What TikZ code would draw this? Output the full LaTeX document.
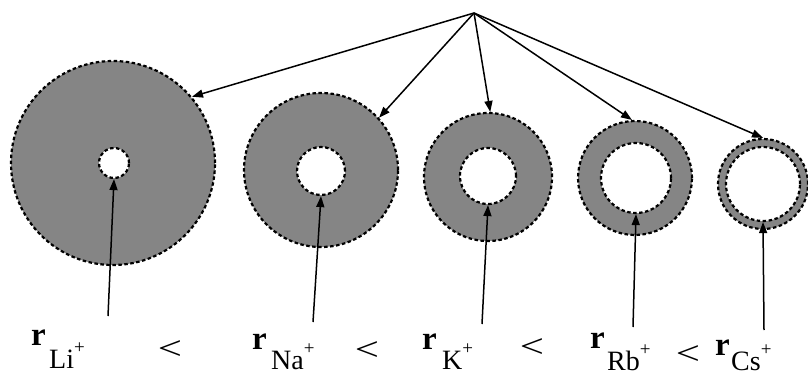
\documentclass[tikz,border=0pt]{standalone}
\usepackage{fontspec}
\setmainfont{Liberation Serif}
\usetikzlibrary{arrows.meta}
\tikzset{
  ring/.style={circle, draw=black, fill=black!48, line width=2.2pt,
    dash pattern=on 3.5pt off 2.5pt, inner sep=0pt, minimum size=#1},
  hole/.style={circle, draw=black, fill=white, line width=2.2pt,
    dash pattern=on 3.5pt off 2.5pt, inner sep=0pt, minimum size=#1},
  conn/.style={line width=1.5pt, -{Triangle[length=11pt,width=8pt]}},
  rlab/.style={anchor=base west, inner sep=0pt, font=\fontsize{33}{33}\selectfont\bfseries},
  slab/.style={anchor=base west, inner sep=0pt, font=\fontsize{28}{28}\selectfont},
  ltlab/.style={anchor=center, inner sep=0pt, font=\fontsize{33}{33}\selectfont}
}
\newcommand{\plussup}{\raisebox{15pt}{\fontsize{19}{19}\selectfont +}}
\begin{document}
\begin{tikzpicture}[x=1pt, y=-1pt]
\useasboundingbox (0,0) rectangle (808,377);
% outer rings
\node[ring=204pt] (Li) at (113,163) {};
\node[ring=154pt] (Na) at (321,170) {};
\node[ring=128pt] (K)  at (488,177) {};
\node[ring=114pt] (Rb) at (635,178) {};
\node[ring=90pt]  (Cs) at (763,184) {};
% holes
\node[hole=30pt] (Lii) at (114,163) {};
\node[hole=48pt] (Nai) at (321,171) {};
\node[hole=56pt] (Ki)  at (488,176) {};
\node[hole=70pt] (Rbi) at (636,178) {};
\node[hole=74pt] (Csi) at (763,184) {};
% apex
\coordinate (apex) at (474,13);
\draw[conn] (apex) -- (Li.40);
\draw[conn] (apex) -- (Na.42);
\draw[conn] (apex) -- (K.88);
\draw[conn] (apex) -- (Rb.93);
\draw[conn] (apex) -- (Cs.90);
% bottom arrow starts
\coordinate (aLi) at (108,316);
\coordinate (aNa) at (313,322);
\coordinate (aK)  at (482,324);
\coordinate (aRb) at (633,327);
\coordinate (aCs) at (764,330);
\draw[conn] (aLi) -- (Lii.south);
\draw[conn] (aNa) -- (Nai.south);
\draw[conn] (aK)  -- (Ki.south);
\draw[conn] (aRb) -- (Rbi.south);
\draw[conn] (aCs) -- (Csi.south);
% labels
\node[rlab] (rLi) at (31,345) {r};
\node[slab] (sLi) at (49,368) {Li\plussup};
\node[ltlab] (lt1) at (170,350) {\scalebox{1.3}[1]{<}};
\node[rlab] (rNa) at (252,349) {r};
\node[slab] (sNa) at (271,369) {Na\plussup};
\node[ltlab] (lt2) at (367,351) {\scalebox{1.3}[1]{<}};
\node[rlab] (rK) at (422,349) {r};
\node[slab] (sK) at (442,369) {K\plussup};
\node[ltlab] (lt3) at (532,348) {\scalebox{1.3}[1]{<}};
\node[rlab] (rRb) at (590,348) {r};
\node[slab] (sRb) at (607,370) {Rb\plussup};
\node[ltlab] (lt4) at (688,355) {\scalebox{1.3}[1]{<}};
\node[rlab] (rCs) at (715,355) {r};
\node[slab] (sCs) at (731,370) {Cs\plussup};
\end{tikzpicture}
\end{document}
